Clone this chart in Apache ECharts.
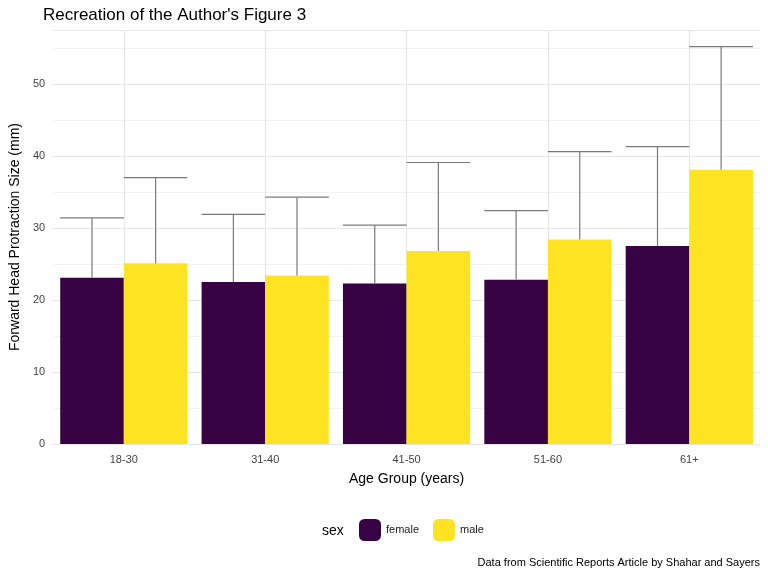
<!DOCTYPE html>
<html><head><meta charset="utf-8">
<script src="https://cdn.jsdelivr.net/npm/echarts@6/dist/echarts.min.js"></script>
<style>html,body{margin:0;background:#fff}#main{width:768px;height:576px}</style>
</head><body><div id="main"></div>
<script>
var ageGroups = ['18-30', '31-40', '41-50', '51-60', '61+'];
var femaleMean = [23.1, 22.5, 22.3, 22.8, 27.5];
var femaleUpper = [31.4, 31.9, 30.4, 32.4, 41.3];
var maleMean = [25.1, 23.4, 26.8, 28.4, 38.1];
var maleUpper = [37.0, 34.3, 39.1, 40.6, 55.2];

var font = 'Liberation Sans, Arial, sans-serif';
var myChart = echarts.init(document.getElementById('main'));

function errorBar(side, upper) {
    return {
        type: 'custom',
        z: 5,
        silent: true,
        data: ageGroups.map(function (c, i) { return [i, side === 0 ? femaleMean[i] : maleMean[i], upper[i]]; }),
        renderItem: function (params, api) {
            var band = api.size([1, 0])[0];
            var bw = band * 0.9 / 2;
            var base = api.coord([api.value(0), api.value(1)]);
            var top = api.coord([api.value(0), api.value(2)]);
            var cx = base[0] + (side === 0 ? -bw / 2 : bw / 2);
            var st = {stroke: '#7a7a7a', lineWidth: 1.2};
            return {type: 'group', children: [
                {type: 'line', shape: {x1: cx, y1: base[1], x2: cx, y2: top[1]}, style: st},
                {type: 'line', shape: {x1: cx - bw / 2, y1: top[1], x2: cx + bw / 2, y2: top[1]}, style: st}
            ]};
        }
    };
}

option = {
    backgroundColor: '#fff',
    textStyle: {fontFamily: font},
    title: {text: "Recreation of the Author's Figure 3", left: 38, top: 2,
        textStyle: {fontSize: 17, fontWeight: 'normal', color: '#000', fontFamily: font}},
    grid: {left: 45, right: 8, top: 30, bottom: 132},
    legend: {bottom: 30, left: 354, itemWidth: 22, itemHeight: 22, itemGap: 14,
        data: ['female', 'male'], textStyle: {fontSize: 11, color: '#222', fontFamily: font}},
    graphic: [
        {type: 'text', left: 322, top: 524, style: {text: 'sex', fontSize: 14, fill: '#000', fontFamily: font}},
        {type: 'text', right: 8, top: 557, style: {text: 'Data from Scientific Reports Article by Shahar and Sayers', fontSize: 11, fill: '#000', fontFamily: font}}
    ],
    xAxis: {
        type: 'category', data: ageGroups,
        name: 'Age Group (years)', nameLocation: 'middle', nameGap: 28,
        nameTextStyle: {fontSize: 14, color: '#000'},
        axisLine: {show: false}, axisTick: {show: false, alignWithLabel: true},
        axisLabel: {color: '#444', fontSize: 11, margin: 10},
        splitLine: {show: true, alignWithLabel: true, lineStyle: {color: '#e8e8e8', width: 1.2}}
    },
    yAxis: {
        type: 'value', min: 0, max: 57.5, interval: 10,
        name: 'Forward Head Protraction Size (mm)', nameLocation: 'middle', nameGap: 30,
        nameTextStyle: {fontSize: 14, color: '#000'},
        axisLabel: {color: '#444', fontSize: 11, showMaxLabel: false},
        splitLine: {lineStyle: {color: '#e8e8e8', width: 1.2}},
        minorTick: {show: false, splitNumber: 2},
        minorSplitLine: {show: true, lineStyle: {color: '#f3f3f3', width: 1}}
    },
    series: [
        {name: 'female', type: 'bar', data: femaleMean, barGap: '0%', barCategoryGap: '10%',
            itemStyle: {color: '#380344'}},
        {name: 'male', type: 'bar', data: maleMean, itemStyle: {color: '#fde322'}},
        errorBar(0, femaleUpper),
        errorBar(1, maleUpper)
    ]
};

myChart.setOption(option);
</script></body></html>
